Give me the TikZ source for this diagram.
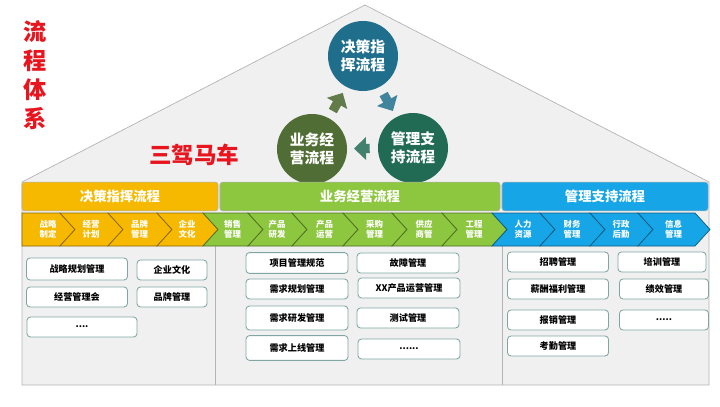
\documentclass[tikz,border=0pt]{standalone}
\usepackage{fontspec}
\setmainfont{Noto Sans CJK SC}
\usepackage{xcolor}
\usetikzlibrary{arrows.meta, positioning, shapes.geometric}

\definecolor{cyel}{HTML}{F7B900}
\definecolor{cgrn}{HTML}{8DC63F}
\definecolor{cblu}{HTML}{16A5E6}
\definecolor{cred}{HTML}{E8141E}
\definecolor{housefill}{HTML}{F0F0F0}
\definecolor{houseline}{HTML}{B4B4B4}
\definecolor{boxline}{HTML}{7FA6A2}
\definecolor{topcirc}{HTML}{1F6E8C}
\definecolor{leftcirc}{HTML}{4F6D34}
\definecolor{rightcirc}{HTML}{216B55}

\begin{document}
\begin{tikzpicture}[
    x=0.025cm, y=-0.025cm,
    wheel/.style={circle, fill=#1, text=white, minimum size=1.75cm, inner sep=0pt, align=center, font=\bfseries\fontsize{10.5}{12.8}\selectfont},
    flowarrow/.style={line width=6.5pt, -{Triangle[length=8.5pt,width=16pt]}, shorten >=0.17cm, shorten <=0.2cm},
    bar/.style={rectangle, rounded corners=2pt, fill=#1, draw=gray!60, line width=0.4pt, text=white, minimum height=0.72cm, font=\bfseries\fontsize{9.5}{11}\selectfont},
    chevtext/.style={text=white, align=center, inner sep=0pt, font=\bfseries\fontsize{6}{7}\selectfont},
    item/.style={rectangle, draw=boxline, fill=white, rounded corners=2.5pt, line width=0.6pt, minimum height=0.5cm, inner sep=1pt, font=\bfseries\fontsize{6.5}{7.5}\selectfont},
    wide/.style={item, minimum width=2.55cm},
    narrow/.style={item, minimum width=1.75cm}
]
    \useasboundingbox (0,0) rectangle (720,406);

    % House
    \filldraw[fill=housefill, draw=houseline, line width=0.5pt] (22,182) -- (365,5) -- (709,182) -- (709,385) -- (22,385) -- cycle;
    \draw[houseline, line width=0.5pt] (215,246) -- (215,385);
    \draw[houseline, line width=0.5pt] (502,246) -- (502,385);

    % Titles
    \node[text=cred, align=center, font=\bfseries\fontsize{16.5}{20.5}\selectfont] (title) at (35,75) {流\\程\\体\\系};
    \node[text=cred, font=\bfseries\fontsize{16}{18}\selectfont] (carriage) at (194,155) {三驾马车};

    % Three wheels
    \node[wheel=topcirc] (decide) at (363,56) {决策指\\挥流程};
    \node[wheel=leftcirc] (business) at (312,149) {业务经\\营流程};
    \node[wheel=rightcirc] (support) at (413,148) {管理支\\持流程};

    \draw[flowarrow, draw=leftcirc!90!white] (business) -- (decide);
    \draw[flowarrow, draw=topcirc!85!white] (decide) -- (support);
    \draw[flowarrow, draw=rightcirc!85!white] (support) -- (business);

    % Header bars
    \node[bar=cyel, minimum width=4.9cm] (decbar) at (120,196.5) {决策指挥流程};
    \node[bar=cgrn, minimum width=7cm] (busbar) at (360,196.5) {业务经营流程};
    \node[bar=cblu, minimum width=5.15cm] (supbar) at (605,196.5) {管理支持流程};

    % Chevron row
    \foreach \a/\b/\d/\c/\t [count=\i] in {
        22/60/0/cyel/{战略\\制定}, 60/108/15/cyel/{经营\\计划},
        108/157/15/cyel/{品牌\\管理}, 157/203/15/cyel/{企业\\文化},
        203/248/15/cgrn/{销售\\管理}, 248/292/15/cgrn/{产品\\研发},
        292/343/15/cgrn/{产品\\运营}, 343/392/15/cgrn/{采购\\管理},
        392/442/15/cgrn/{供应\\商管}, 442/492/15/cgrn/{工程\\管理},
        492/540/15/cblu/{人力\\资源}, 540/590/15/cblu/{财务\\管理},
        590/638/15/cblu/{行政\\后勤}, 638/695/15/cblu/{信息\\管理}}{
        \filldraw[fill=\c, draw=\c!55!black, line width=0.5pt]
            (\a,213) -- (\b,213) -- (\b+15,229.5) -- (\b,246) -- (\a,246) -- (\a+\d,229.5) -- cycle;
        \node[chevtext] (chev\i) at ({(\a+\b)/2+7},229.5) {\t};
    }

    % Decision items
    \node[wide, minimum width=2.525cm, minimum height=0.55cm] (plan) at (77,269) {战略规划管理};
    \node[narrow] (culture) at (172,270) {企业文化};
    \node[wide, minimum width=2.525cm] (meeting) at (77,297) {经营管理会};
    \node[narrow] (brand) at (172,297) {品牌管理};
    \node[wide, minimum width=2.75cm] (decmore) at (82,327) {....};

    % Business items
    \node[wide, minimum height=0.52cm] (projnorm) at (297,263) {项目管理规范};
    \node[wide] (fault) at (408,263) {故障管理};
    \node[wide] (reqplan) at (297,289) {需求规划管理};
    \node[wide] (prodop) at (409,288) {XX产品运营管理};
    \node[wide, minimum height=0.6cm] (reqdev) at (297,318) {需求研发管理};
    \node[wide] (testing) at (408,318) {测试管理};
    \node[wide, minimum height=0.62cm] (reqlaunch) at (297,348) {需求上线管理};
    \node[wide] (busmore) at (409,349) {......};

    % Support items
    \node[wide, minimum width=2.525cm] (hire) at (558,262) {招聘管理};
    \node[wide, minimum width=2.2cm] (train) at (662,262) {培训管理};
    \node[wide, minimum width=2.525cm] (salary) at (558,289) {薪酬福利管理};
    \node[wide, minimum width=2.225cm] (perf) at (664,289) {绩效管理};
    \node[wide, minimum width=2.525cm] (expense) at (558,320) {报销管理};
    \node[wide, minimum width=2.225cm] (supmore) at (664,320) {.....};
    \node[wide, minimum width=2.525cm] (attend) at (558,346) {考勤管理};

\end{tikzpicture}
\end{document}
